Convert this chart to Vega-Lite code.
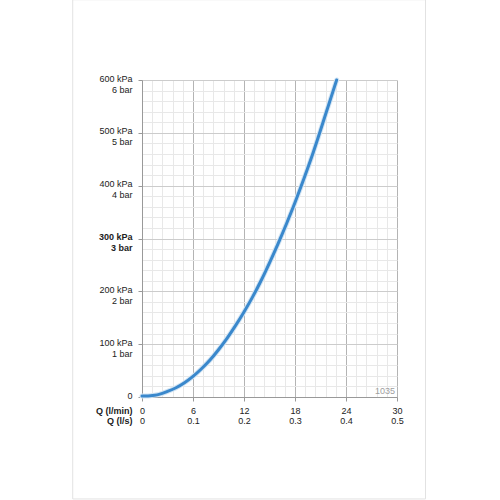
{
  "$schema": "https://vega.github.io/schema/vega-lite/v6.json",
  "width": 255,
  "height": 317,
  "autosize": {"type": "none"},
  "padding": {"left": 142, "top": 80, "right": 103, "bottom": 103},
  "background": "white",
  "config": {"font": "Liberation Sans", "view": {"stroke": null}},
  "datasets": {
    "curve": [
      {"Q": 0, "p": 2}, {"Q": 0.5, "p": 2}, {"Q": 1, "p": 2.5}, {"Q": 1.5, "p": 3.5},
      {"Q": 2, "p": 5}, {"Q": 3, "p": 10.5}, {"Q": 4, "p": 17.5}, {"Q": 5, "p": 27},
      {"Q": 6, "p": 39}, {"Q": 7, "p": 53.5}, {"Q": 8, "p": 70}, {"Q": 9, "p": 89.5},
      {"Q": 10, "p": 111}, {"Q": 11, "p": 135}, {"Q": 12, "p": 161}, {"Q": 13, "p": 189},
      {"Q": 14, "p": 220}, {"Q": 15, "p": 254}, {"Q": 16, "p": 290}, {"Q": 17, "p": 328},
      {"Q": 18, "p": 368}, {"Q": 19, "p": 411}, {"Q": 20, "p": 456}, {"Q": 21, "p": 505},
      {"Q": 22, "p": 555}, {"Q": 22.9, "p": 600}
    ],
    "page": [{"Q": -8.15, "Q2": 33.35, "p": -193, "p2": 752}],
    "note": [{"Q": 30, "p": 0, "label": "1035"}]
  },
  "encoding": {
    "x": {
      "field": "Q", "type": "quantitative",
      "scale": {"domain": [0, 30], "nice": false, "zero": false},
      "axis": {
        "values": [0, 1.2, 2.4, 3.6, 4.8, 6, 7.2, 8.4, 9.6, 10.8, 12, 13.2, 14.4, 15.6, 16.8, 18, 19.2, 20.4, 21.6, 22.8, 24, 25.2, 26.4, 27.6, 28.8, 30],
        "labelExpr": "datum.value % 6 == 0 ? [datum.label, format(datum.value / 60, '.1~f')] : ''",
        "gridColor": {"condition": {"test": "datum.value % 6 == 0", "value": "#b4b4b4"}, "value": "#e8e8e8"},
        "tickOpacity": {"condition": {"test": "datum.value % 6 == 0", "value": 1}, "value": 0},
        "tickSize": 4, "tickColor": "#999999", "domainColor": "#999999",
        "labelFontSize": 9, "labelColor": "#222222", "labelLineHeight": 10, "labelPadding": 5,
        "labelOverlap": false, "labelFlush": false, "labelBound": false,
        "labelBaseline": "top", "labelAlign": "center",
        "title": ["Q (l/min)", "Q (l/s)"],
        "titleFontSize": 9, "titleFontWeight": "bold", "titleColor": "#222222",
        "titleAlign": "right", "titleBaseline": "top", "titleX": -10, "titleY": 9, "titleLineHeight": 10
      }
    },
    "y": {
      "field": "p", "type": "quantitative",
      "scale": {"domain": [0, 600], "nice": false, "zero": false},
      "axis": {
        "values": [0, 20, 40, 60, 80, 100, 120, 140, 160, 180, 200, 220, 240, 260, 280, 300, 320, 340, 360, 380, 400, 420, 440, 460, 480, 500, 520, 540, 560, 580, 600],
        "labelExpr": "datum.value % 100 == 0 ? (datum.value == 0 ? ['0', ''] : [datum.value + ' kPa', (datum.value / 100) + ' bar']) : ''",
        "labelFontWeight": {"condition": {"test": "datum.value == 300", "value": "bold"}, "value": "normal"},
        "gridColor": {"condition": {"test": "datum.value % 100 == 0", "value": "#cccccc"}, "value": "#e8e8e8"},
        "tickOpacity": {"condition": {"test": "datum.value % 100 == 0", "value": 1}, "value": 0},
        "tickSize": 4, "tickColor": "#999999", "domainColor": "#999999",
        "labelFontSize": 9, "labelColor": "#222222", "labelLineHeight": 11, "labelPadding": 6,
        "labelOffset": -2,
        "labelOverlap": false, "labelFlush": false, "labelBound": false,
        "labelBaseline": "middle", "labelAlign": "right",
        "title": null
      }
    }
  },
  "layer": [
    {
      "data": {"name": "page"},
      "mark": {"type": "rect", "filled": false, "stroke": "#e2e2e2", "strokeWidth": 1, "clip": false},
      "encoding": {"x2": {"field": "Q2"}, "y2": {"field": "p2"}}
    },
    {
      "data": {"name": "curve"},
      "mark": {"type": "line", "interpolate": "monotone", "stroke": "#d3e5f4", "strokeWidth": 5, "strokeCap": "round"},
      "encoding": {}
    },
    {
      "data": {"name": "curve"},
      "mark": {"type": "line", "interpolate": "monotone", "stroke": "#3a88cc", "strokeWidth": 3, "strokeCap": "round"},
      "encoding": {}
    },
    {
      "data": {"name": "note"},
      "mark": {"type": "text", "align": "right", "baseline": "bottom", "dx": -2, "dy": -1, "fontSize": 9, "color": "#a0a0a0"},
      "encoding": {"text": {"field": "label"}}
    }
  ]
}
